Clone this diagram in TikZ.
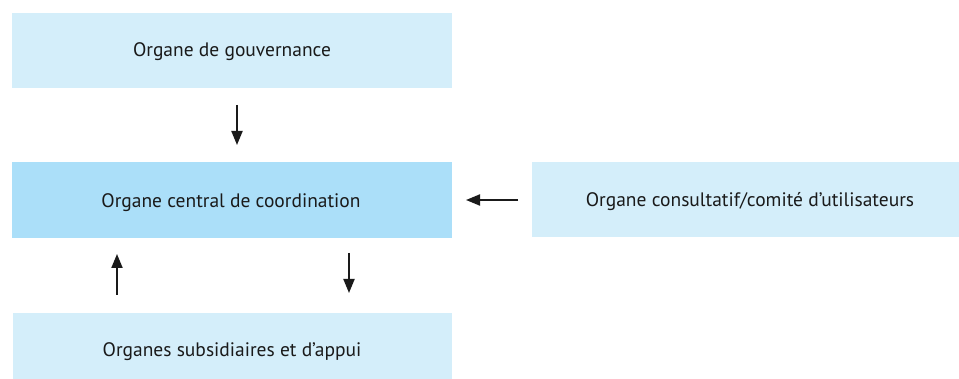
\documentclass[tikz,border=0pt]{standalone}
\usepackage{fontspec}
\setmainfont{PT Sans}
\usetikzlibrary{arrows.meta}
\definecolor{lightbox}{HTML}{D4EEFA}
\definecolor{darkbox}{HTML}{ABDFF9}
\definecolor{ink}{HTML}{1A1A1A}
\begin{document}
\begin{tikzpicture}[x=1pt,y=-1pt,
  box/.style={inner sep=0pt,anchor=base,text=ink,font=\fontsize{19.5}{23}\selectfont},
  arr/.style={line width=2pt,draw=ink,-{Triangle[length=14pt,width=11pt]}}]
\useasboundingbox (0,0) rectangle (959,379);
\fill[lightbox] (12,13) rectangle (452,88);
\node[box] (gov) at (232,57) {Organe de gouvernance};
\fill[darkbox] (12,162) rectangle (452,238);
\node[box] (cen) at (231,208) {Organe central de coordination};
\fill[lightbox] (532,162) rectangle (959,237);
\node[box] (con) at (750,207) {Organe consultatif/comité d’utilisateurs};
\fill[lightbox] (13,313) rectangle (452,379);
\node[box] (sub) at (232,357) {Organes subsidiaires et d’appui};
\coordinate (a1s) at (237,105); \coordinate (a1e) at (237,145);
\coordinate (a2s) at (518,200); \coordinate (a2e) at (466,200);
\coordinate (a3s) at (117,295); \coordinate (a3e) at (117,254);
\coordinate (a4s) at (349,253); \coordinate (a4e) at (349,293);
\draw[arr] (a1s) -- (a1e);
\draw[arr] (a2s) -- (a2e);
\draw[arr] (a3s) -- (a3e);
\draw[arr] (a4s) -- (a4e);
\end{tikzpicture}
\end{document}
